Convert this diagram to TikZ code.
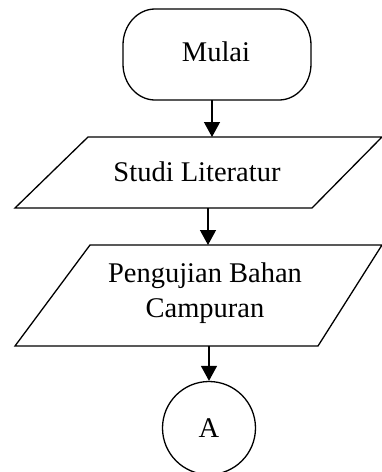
\documentclass[tikz,border=0pt]{standalone}
\usepackage{fontspec}
\setmainfont{Liberation Serif}
\usetikzlibrary{arrows.meta}
\begin{document}
\begin{tikzpicture}[x=1pt,y=-1pt,
  shapeline/.style={draw=black,line width=1.3pt,line join=miter},
  flowarrow/.style={draw=black,line width=1.3pt,-{Triangle[width=16pt,length=15pt]}},
  txtstyle/.style={font=\fontsize{28.5}{35}\selectfont,align=center,inner sep=0pt}]
\useasboundingbox (0,0) rectangle (382,472);
\clip (0,0) rectangle (382,472);
% Mulai (terminator)
\draw[shapeline] (155,9) -- (279,9)
  .. controls (296.6,9) and (311,25.2) .. (311,45)
  -- (311,64)
  .. controls (311,83.8) and (296.6,100) .. (279,100)
  -- (155,100)
  .. controls (137.4,100) and (123,83.8) .. (123,64)
  -- (123,45)
  .. controls (123,25.2) and (137.4,9) .. (155,9) -- cycle;
\node[txtstyle] (mulai) at (216,52) {Mulai};
\coordinate (mulaiS) at (212,100);
% Studi Literatur (parallelogram)
\draw[shapeline] (88,137) -- (382,137) -- (312,208) -- (15,208) -- cycle;
\node[txtstyle] (studi) at (197,172) {Studi Literatur};
\coordinate (studiN) at (212,137);
\coordinate (studiS) at (208,208);
% Pengujian Bahan Campuran (parallelogram)
\draw[shapeline] (90,245) -- (382,245) -- (318,346) -- (15,346) -- cycle;
\node[txtstyle] (uji) at (205,293) {Pengujian Bahan\\Campuran};
\coordinate (ujiN) at (208,245);
\coordinate (ujiS) at (209,346);
% Connector A
\node[shapeline,circle,minimum size=93pt,txtstyle] (a) at (209,428) {A};
% connectors
\draw[flowarrow] (mulaiS) -- (studiN);
\draw[flowarrow] (studiS) -- (ujiN);
\draw[flowarrow] (ujiS) -- (a.north);
\end{tikzpicture}
\end{document}
